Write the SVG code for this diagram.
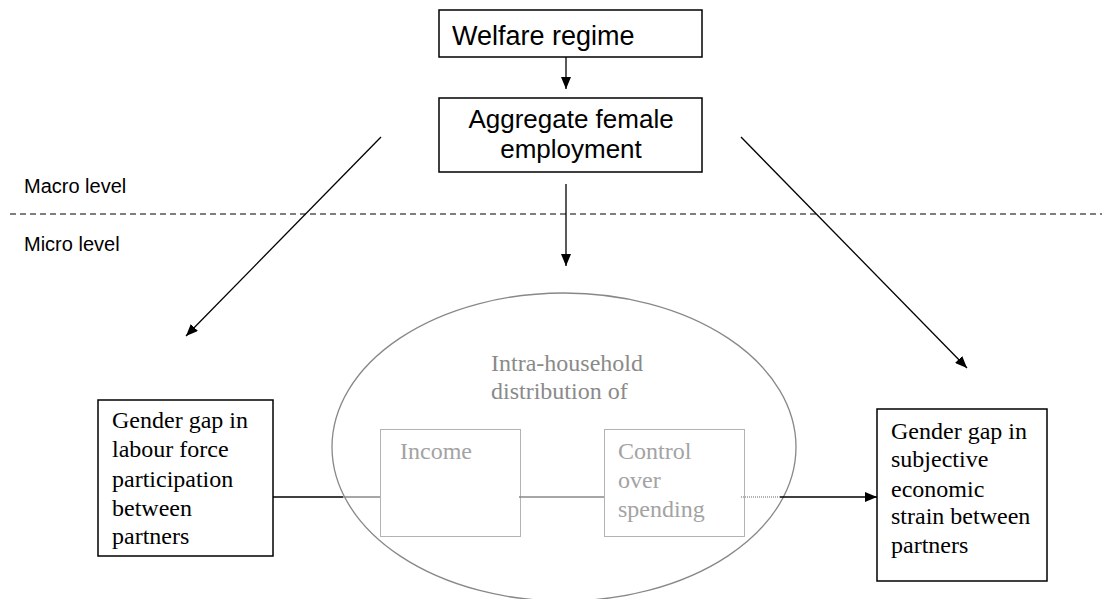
<svg xmlns="http://www.w3.org/2000/svg" width="1102" height="599" viewBox="0 0 1102 599">
<defs>
<style>
.box{fill:#fff;stroke:#000;stroke-width:1.5}
.sans{font-family:"Liberation Sans",Arial,sans-serif;fill:#000}
.serif{font-family:"Liberation Serif","Times New Roman",serif;font-size:24px;fill:#000}
.grey{font-family:"Liberation Serif","Times New Roman",serif;font-size:24px;fill:#8a8a8a}
.light{font-family:"Liberation Serif","Times New Roman",serif;font-size:24px;fill:#a3a3a3}
.dot{fill:none;stroke:#666;stroke-width:1;stroke-dasharray:1 1}
.conn{stroke:#000;stroke-width:1.3;fill:none}
</style>
<marker id="ah" markerUnits="userSpaceOnUse" markerWidth="12" markerHeight="10" refX="12" refY="5" orient="auto">
<path d="M0,0 L12,5 L0,10 z" fill="#000"/>
</marker>
</defs>
<rect width="1102" height="599" fill="#fff"/>

<g id="levels">
<line x1="10" y1="214" x2="1102" y2="214" stroke="#555" stroke-width="1.3" stroke-dasharray="6 4"/>
<text class="sans" x="24" y="193" font-size="20">Macro level</text>
<text class="sans" x="24" y="251" font-size="20">Micro level</text>
</g>

<g id="welfare">
<rect class="box" x="439" y="10" width="263" height="47"/>
<text class="sans" x="452" y="45" font-size="27">Welfare regime</text>
</g>

<g id="aggregate">
<rect class="box" x="439" y="98" width="263" height="74"/>
<text class="sans" x="571" y="128" font-size="26" text-anchor="middle">Aggregate female</text>
<text class="sans" x="571" y="158" font-size="26" text-anchor="middle">employment</text>
</g>

<g id="household">
<ellipse cx="564" cy="447" rx="232" ry="154" fill="none" stroke="#888" stroke-width="1.3"/>
<text class="grey" x="491" y="371">Intra-household</text>
<text class="grey" x="491" y="399">distribution of</text>
</g>

<g id="income">
<rect class="dot" x="380.5" y="429.5" width="140" height="107"/>
<text class="light" x="400" y="459">Income</text>
</g>

<g id="control">
<rect class="dot" x="604.5" y="429.5" width="140" height="107"/>
<text class="light" x="618" y="459">Control</text>
<text class="light" x="618" y="488">over</text>
<text class="light" x="618" y="517">spending</text>
</g>

<g id="lfp">
<rect class="box" x="98" y="400" width="175" height="156"/>
<text class="serif" x="112" y="428">Gender gap in</text>
<text class="serif" x="112" y="457">labour force</text>
<text class="serif" x="112" y="487">participation</text>
<text class="serif" x="112" y="516">between</text>
<text class="serif" x="112" y="544">partners</text>
</g>

<g id="strain">
<rect class="box" x="877" y="409" width="170" height="172"/>
<text class="serif" x="891" y="439">Gender gap in</text>
<text class="serif" x="891" y="467">subjective</text>
<text class="serif" x="891" y="497">economic</text>
<text class="serif" x="891" y="524">strain between</text>
<text class="serif" x="891" y="553">partners</text>
</g>

<g id="connectors">
<line class="conn" x1="566" y1="57" x2="566" y2="89" marker-end="url(#ah)"/>
<line class="conn" x1="566" y1="184" x2="566" y2="266" marker-end="url(#ah)"/>
<line class="conn" x1="381" y1="137" x2="186" y2="336" marker-end="url(#ah)"/>
<line class="conn" x1="741" y1="137" x2="967" y2="368" marker-end="url(#ah)"/>
<line x1="273" y1="497" x2="343" y2="497" stroke="#000" stroke-width="1.3"/>
<line x1="343" y1="497" x2="380" y2="497" stroke="#888" stroke-width="1.3"/>
<line x1="519" y1="497" x2="604" y2="497" stroke="#888" stroke-width="1.3"/>
<line x1="741" y1="497" x2="780" y2="497" stroke="#666" stroke-width="1" stroke-dasharray="1 1"/>
<line class="conn" x1="780" y1="497" x2="877" y2="497" marker-end="url(#ah)"/>
</g>
</svg>
